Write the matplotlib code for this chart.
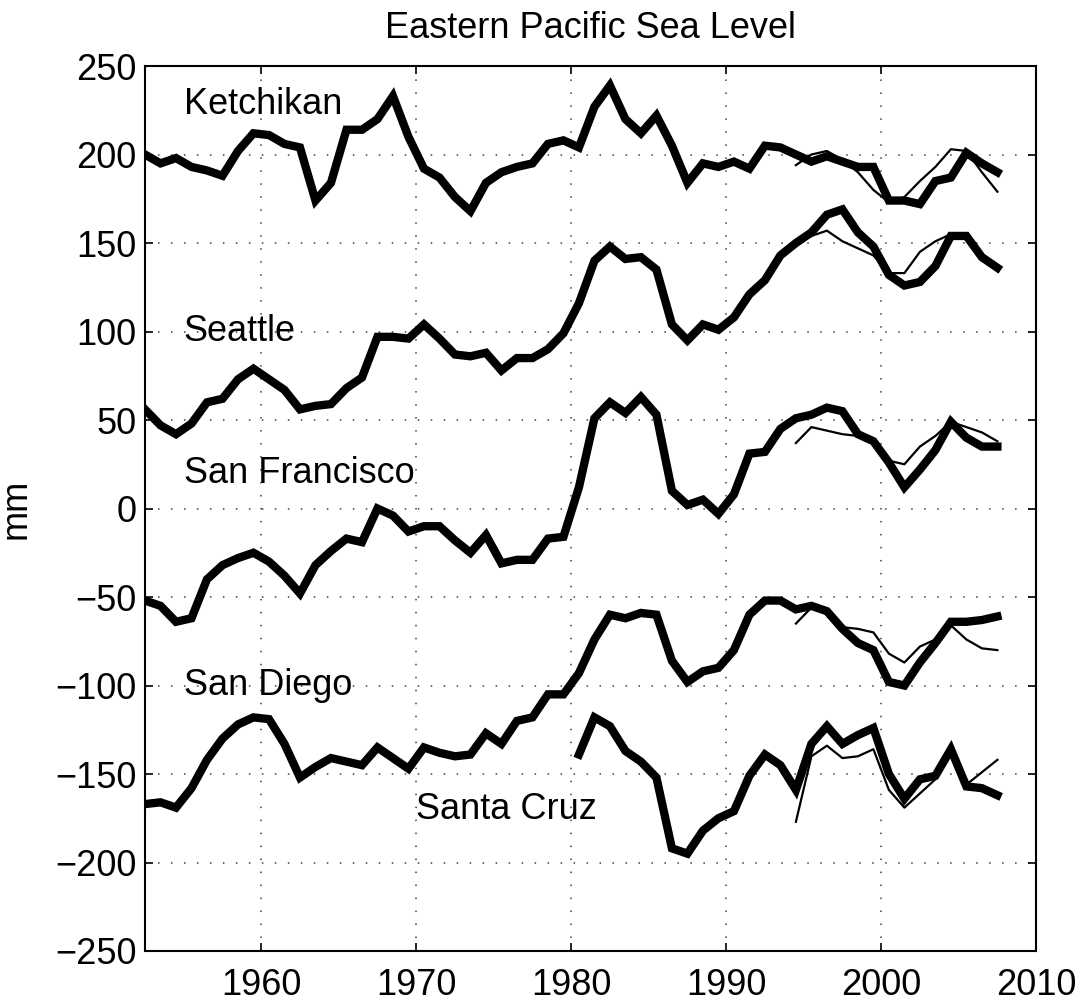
import numpy as np
import matplotlib
matplotlib.use('Agg')
import matplotlib.pyplot as plt

plt.rcParams['font.family'] = ['Liberation Sans', 'DejaVu Sans']

# annual means, plotted at mid-year
years = np.arange(1952, 2008) + 0.5
recent = np.arange(1994, 2008) + 0.5

ketchikan = [200, 195, 198, 193, 191, 188, 202, 212,
             211, 206, 204, 174, 184, 214, 214, 220, 233, 210,
             192, 187, 176, 168, 184, 190, 193, 195, 206, 208,
             204, 227, 239, 220, 212, 222, 205, 184, 195, 193,
             196, 192, 205, 204, 200, 196, 199, 196, 193, 193,
             174, 174, 172, 185, 187, 201, 195, 190]
seattle = [56, 47, 42, 48, 60, 62, 73, 79,
           73, 67, 56, 58, 59, 68, 74, 97, 97, 96,
           104, 96, 87, 86, 88, 78, 85, 85, 90, 99,
           116, 140, 148, 141, 142, 135, 104, 95, 104, 101,
           108, 121, 129, 143, 150, 156, 166, 169, 156, 148,
           132, 126, 128, 137, 154, 154, 142, 136]
san_francisco = [-52, -55, -64, -62, -40, -32, -28, -25,
                 -30, -38, -48, -32, -24, -17, -19, 0, -4, -13,
                 -10, -10, -18, -25, -15, -31, -29, -29, -17, -16,
                 12, 51, 60, 54, 63, 53, 10, 2, 5, -3,
                 8, 31, 32, 45, 51, 53, 57, 55, 42, 38,
                 26, 12, 22, 33, 49, 40, 35, 35]
san_diego = [-167, -166, -169, -158, -142, -130, -122, -118,
             -119, -133, -152, -146, -141, -143, -145, -135, -141, -147,
             -135, -138, -140, -139, -127, -133, -120, -118, -105, -105,
             -93, -74, -60, -62, -59, -60, -86, -98, -92, -90,
             -80, -60, -52, -52, -57, -55, -58, -68, -76, -80,
             -98, -100, -87, -76, -64, -64, -63, -61]
santa_cruz = [np.nan] * 28 + [
    -139, -118, -123, -137, -143, -152, -192, -195, -182, -175,
    -171, -151, -139, -145, -159, -133, -123, -133, -128, -124,
    -150, -164, -153, -151, -136, -157, -158, -162]

# second, shorter record at each station
ketchikan_2 = [194, 200, 202, 197, 190, 180, 173, 176, 185, 193, 203, 202, 190, 179]
seattle_2 = [150, 154, 157, 151, 147, 143, 133, 133, 145, 151, 155, 155, 144, 136]
san_francisco_2 = [37, 46, 44, 42, 41, 38, 27, 25, 35, 41, 49, 46, 43, 38]
san_diego_2 = [-65, -56, -58, -67, -68, -70, -82, -87, -78, -74, -66, -74, -79, -80]
santa_cruz_2 = [-177, -140, -134, -141, -140, -136, -159, -169, -161, -153, -137, -156, -149, -142]

stations = ['Ketchikan', 'Seattle', 'San Francisco', 'San Diego', 'Santa Cruz']
label_x = [1955, 1955, 1955, 1955, 1970]
label_y = [228, 100, 20, -100, -170]

fig = plt.figure(figsize=(10.82, 10.02), dpi=100)
ax = fig.add_axes([0.134, 0.0509, 0.8236, 0.8832])

for s in [ketchikan, seattle, san_francisco, san_diego, santa_cruz]:
    ax.plot(years, s, color='black', linewidth=6, solid_joinstyle='miter')
for s in [ketchikan_2, seattle_2, san_francisco_2, san_diego_2, santa_cruz_2]:
    ax.plot(recent, s, color='black', linewidth=1.6)

for name, x, y in zip(stations, label_x, label_y):
    ax.text(x, y, name, fontsize=26, ha='left', va='center')

ax.set_xlim(1952.5, 2010)
ax.set_ylim(-250, 250)
ax.set_xticks(np.arange(1960, 2011, 10))
ax.set_yticks(np.arange(-250, 251, 50))
ax.grid(True, color='0.25', linestyle=(0, (1, 7.5)), linewidth=1.1)
ax.tick_params(direction='in', length=6, width=1.2, top=True, right=True,
               labelsize=26)
ax.tick_params(axis='x', pad=12)
ax.tick_params(axis='y', pad=6)
for sp in ax.spines.values():
    sp.set_linewidth(1.5)

ax.set_ylabel('mm', fontsize=26)
ax.yaxis.set_label_coords(-0.125, 0.5)
ax.set_title('Eastern Pacific Sea Level', fontsize=26, pad=20)

fig.savefig('out.png', dpi=100)
